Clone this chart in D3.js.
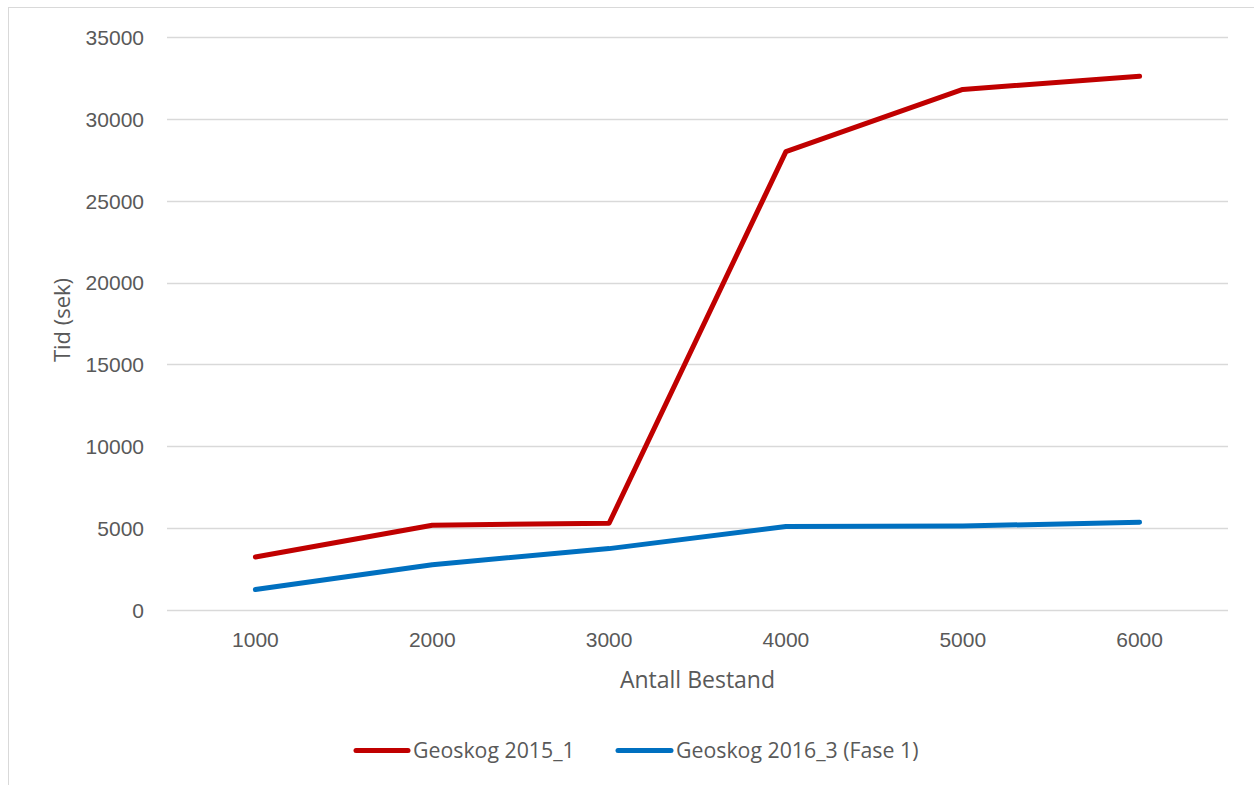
<!DOCTYPE html>
<html>
<head>
<meta charset="utf-8">
<script src="https://cdn.jsdelivr.net/npm/d3@7/dist/d3.min.js"></script>
<style>
  html, body { margin: 0; padding: 0; background: #fff; }
  svg { display: block; font-family: "Open Sans", "Liberation Sans", sans-serif; }
</style>
</head>
<body>
<svg id="chart" width="1254" height="785"></svg>
<script>
// Antall bestand (x categories)
const categories = ["1000", "2000", "3000", "4000", "5000", "6000"];
// Kjøretid i sekunder
const geoskog2015 = [3240, 5180, 5300, 28000, 31800, 32600];
const geoskog2016 = [1250, 2770, 3750, 5100, 5130, 5360];
const yTicks = [0, 5000, 10000, 15000, 20000, 25000, 30000, 35000];
const seriesNames = ["Geoskog 2015_1", "Geoskog 2016_3 (Fase 1)"];
const seriesColors = ["#C00000", "#0070C0"];

const series = [
  { name: seriesNames[0], color: seriesColors[0], values: geoskog2015 },
  { name: seriesNames[1], color: seriesColors[1], values: geoskog2016 }
];

const svg = d3.select("#chart");
const textColor = "#595959";
const gridColor = "#d9d9d9";

// Chart-area border (left and top edges visible)
svg.append("rect")
  .attr("x", 8.5).attr("y", 7.5)
  .attr("width", 1300).attr("height", 900)
  .attr("fill", "none").attr("stroke", gridColor).attr("stroke-width", 1);

const plot = { left: 167, right: 1228, top: 37, bottom: 610 };

const x = d3.scaleBand()
  .domain(categories)
  .range([plot.left, plot.right]);

const y = d3.scaleLinear()
  .domain([0, 35000])
  .range([plot.bottom, plot.top]);

// Horizontal gridlines
svg.append("g")
  .selectAll("line")
  .data(yTicks)
  .join("line")
  .attr("x1", plot.left).attr("x2", plot.right)
  .attr("y1", d => Math.round(y(d)) + 0.5)
  .attr("y2", d => Math.round(y(d)) + 0.5)
  .attr("stroke", gridColor).attr("stroke-width", 1.3);

// Y axis labels
const yAxis = d3.axisLeft(y).tickValues(yTicks).tickSize(0).tickPadding(0).tickFormat(d3.format("d"));
const gy = svg.append("g").attr("transform", `translate(144,0)`).call(yAxis);
gy.select(".domain").remove();
gy.selectAll("text")
  .attr("fill", textColor)
  .style("font-size", "21px")
  .attr("dy", "0.35em");

// X axis labels
const xAxis = d3.axisBottom(x).tickSize(0).tickPadding(0);
const gx = svg.append("g").attr("transform", `translate(0,${plot.bottom})`).call(xAxis);
gx.select(".domain").remove();
gx.selectAll("text")
  .attr("fill", textColor)
  .style("font-size", "21px")
  .attr("y", 30)
  .attr("dy", "0.35em");

// Axis titles
svg.append("text")
  .attr("x", (plot.left + plot.right) / 2)
  .attr("y", 680)
  .attr("dy", "0.35em")
  .attr("text-anchor", "middle")
  .attr("fill", textColor)
  .style("font-size", "23px")
  .text("Antall Bestand");

svg.append("text")
  .attr("transform", `translate(62,320) rotate(-90)`)
  .attr("dy", "0.35em")
  .attr("text-anchor", "middle")
  .attr("fill", textColor)
  .style("font-size", "22px")
  .text("Tid (sek)");

// Series lines
const line = d3.line()
  .x((d, i) => x(categories[i]) + x.bandwidth() / 2)
  .y(d => y(d));

svg.append("g")
  .selectAll("path")
  .data(series)
  .join("path")
  .attr("d", d => line(d.values))
  .attr("fill", "none")
  .attr("stroke", d => d.color)
  .attr("stroke-width", 5)
  .attr("stroke-linecap", "round")
  .attr("stroke-linejoin", "round");

// Legend
const legendY = 750.5;
const legendItems = [
  { x0: 356, x1: 408, tx: 413 },
  { x0: 618, x1: 671, tx: 676 }
];
const lg = svg.append("g");
series.forEach((s, i) => {
  const pos = legendItems[i];
  lg.append("line")
    .attr("x1", pos.x0).attr("x2", pos.x1)
    .attr("y1", legendY).attr("y2", legendY)
    .attr("stroke", s.color).attr("stroke-width", 5)
    .attr("stroke-linecap", "round");
  lg.append("text")
    .attr("x", pos.tx).attr("y", legendY)
    .attr("dy", "0.35em")
    .attr("fill", textColor)
    .style("font-size", "21.3px")
    .text(s.name);
});
</script>
</body>
</html>
